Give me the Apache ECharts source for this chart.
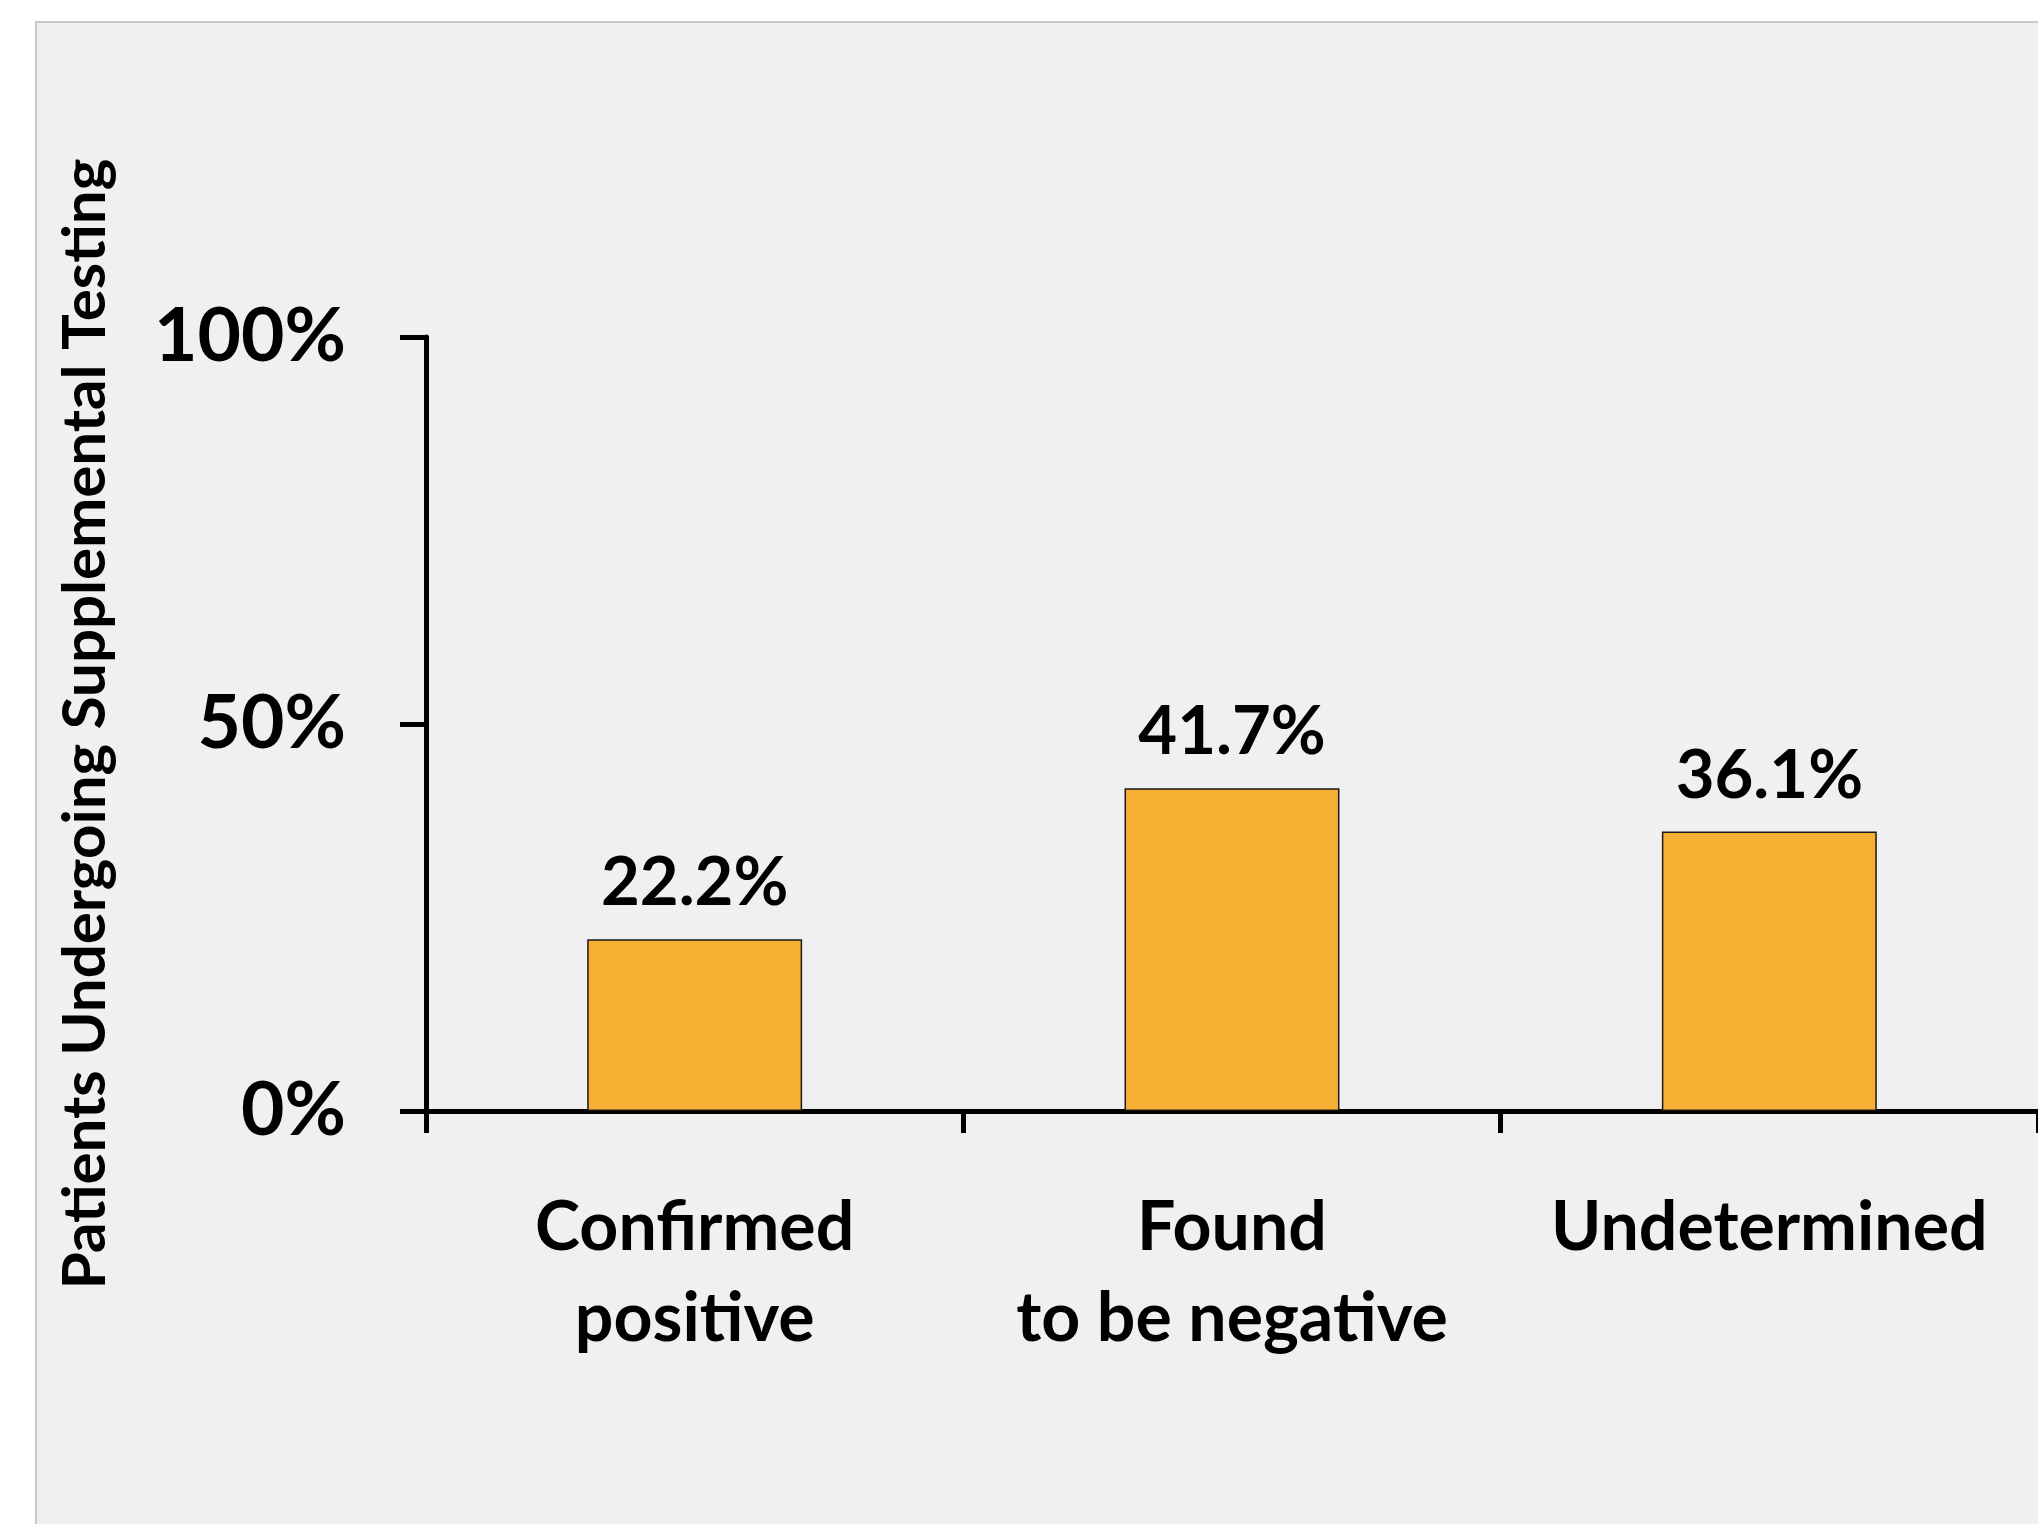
<!DOCTYPE html>
<html>
<head>
<meta charset="utf-8">
<script src="https://cdn.jsdelivr.net/npm/echarts@6/dist/echarts.min.js"></script>
<style>
html,body{margin:0;padding:0;background:#ffffff;}
#chart{width:2038px;height:1524px;}
</style>
</head>
<body>
<div id="chart"></div>
<script>
const categories = ["Confirmed\npositive", "Found\nto be negative", "Undetermined"];
const values = [22.2, 41.7, 36.1];
const yTicks = [0, 50, 100];
const yTitle = "Patients Undergoing Supplemental Testing";

const FONT = "Lato";
const chart = echarts.init(document.getElementById('chart'), null, {renderer: 'canvas'});
chart.setOption({
  backgroundColor: '#ffffff',
  animation: false,
  graphic: [{
    type: 'rect', z: -10, silent: true,
    shape: {x: 36, y: 22, width: 2100, height: 1600},
    style: {fill: '#f0f0f0', stroke: '#c8c8c8', lineWidth: 2}
  }],
  grid: {left: 426, right: 0, top: 337, bottom: 413, containLabel: false},
  xAxis: {
    type: 'category',
    data: categories,
    axisLine: {lineStyle: {color: '#000', width: 5}},
    axisTick: {show: true, length: 22, lineStyle: {color: '#000', width: 5}},
    axisLabel: {
      color: '#000', fontFamily: FONT, fontWeight: 'bold', fontSize: 68,
      lineHeight: 91, margin: 72, interval: 0
    }
  },
  yAxis: {
    type: 'value',
    min: yTicks[0], max: yTicks[yTicks.length - 1], interval: 50,
    name: yTitle,
    nameLocation: 'middle',
    nameGap: 310,
    nameRotate: 90,
    nameTextStyle: {color: '#000', fontFamily: FONT, fontWeight: 'bold', fontSize: 60},
    splitLine: {show: false},
    axisLine: {show: true, lineStyle: {color: '#000', width: 5}},
    axisTick: {show: true, length: 26, lineStyle: {color: '#000', width: 5}},
    axisLabel: {
      color: '#000', fontFamily: FONT, fontWeight: 'bold', fontSize: 75,
      margin: 80, formatter: '{value}%'
    }
  },
  series: [{
    type: 'bar',
    data: values,
    barWidth: '40%',
    itemStyle: {color: '#F7AF34', borderColor: '#1a1a1a', borderWidth: 1.5},
    label: {
      show: true, position: 'top', distance: 22,
      color: '#000', fontFamily: FONT, fontWeight: 'bold', fontSize: 67,
      formatter: p => p.value.toFixed(1) + '%'
    }
  }]
});
</script>
</body>
</html>
